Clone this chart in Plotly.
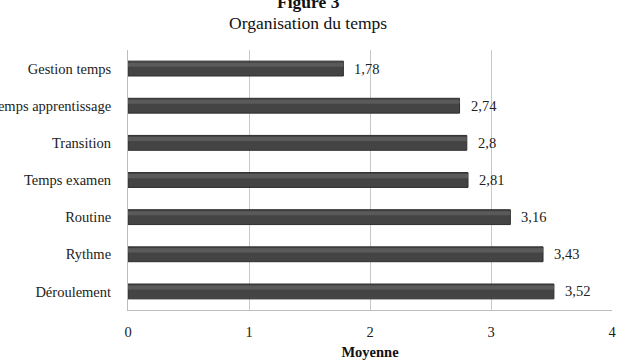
import plotly.graph_objects as go

categories = ["Gestion temps", "Temps apprentissage", "Transition", "Temps examen",
              "Routine", "Rythme", "Déroulement"]
values = [1.78, 2.74, 2.8, 2.81, 3.16, 3.43, 3.52]
value_labels = ["1,78", "2,74", "2,8", "2,81", "3,16", "3,43", "3,52"]
x_ticks = [0, 1, 2, 3, 4]

FONT = "Liberation Serif, Times New Roman, serif"

fig = go.Figure()
fig.add_trace(go.Bar(
    x=values, y=categories, orientation="h", width=0.4,
    marker=dict(color="#444444", line=dict(color="#2e2e2e", width=1)),
    showlegend=False, hoverinfo="skip",
))
# lighter highlight stripe to mimic the gradient
fig.add_trace(go.Bar(
    x=values, y=categories, orientation="h", width=0.11, offset=-0.16,
    marker=dict(color="#5a5a5a", line=dict(width=0)),
    showlegend=False, hoverinfo="skip",
))

for c, v, t in zip(categories, values, value_labels):
    fig.add_annotation(x=v, y=c, text=t, showarrow=False, xanchor="left",
                       xshift=9, font=dict(family=FONT, size=14.5, color="#222"))

fig.add_annotation(x=0.372, y=1.185, xref="paper", yref="paper", text="<b>Figure 3</b>",
                   showarrow=False, yanchor="middle",
                   font=dict(family=FONT, size=17.5, color="#111"))
fig.add_annotation(x=0.372, y=1.104, xref="paper", yref="paper", text="Organisation du temps",
                   showarrow=False, yanchor="middle",
                   font=dict(family=FONT, size=17.5, color="#111"))

fig.update_layout(
    width=636, height=360,
    margin=dict(l=128, r=24, t=50, b=50),
    paper_bgcolor="white", plot_bgcolor="white",
    barmode="overlay",
    font=dict(family=FONT, size=14, color="#222"),
    xaxis=dict(range=[0, 4], tickvals=x_ticks, ticktext=[str(t) for t in x_ticks],
               showgrid=True, gridcolor="#c8c8c8", gridwidth=1,
               showline=True, linecolor="#bdbdbd", zeroline=False,
               ticks="", ticklabelstandoff=9, automargin=False,
               tickfont=dict(family=FONT, size=14.5, color="#222"),
               title=dict(text="<b>Moyenne</b>", standoff=8,
                          font=dict(family=FONT, size=14.5, color="#111")),
               fixedrange=True),
    yaxis=dict(autorange="reversed", showline=True, linecolor="#bdbdbd",
               showgrid=False, ticks="", ticklabelstandoff=13, automargin=False,
               tickfont=dict(family=FONT, size=14.5, color="#222"),
               fixedrange=True),
)

fig.write_html("out.html")
